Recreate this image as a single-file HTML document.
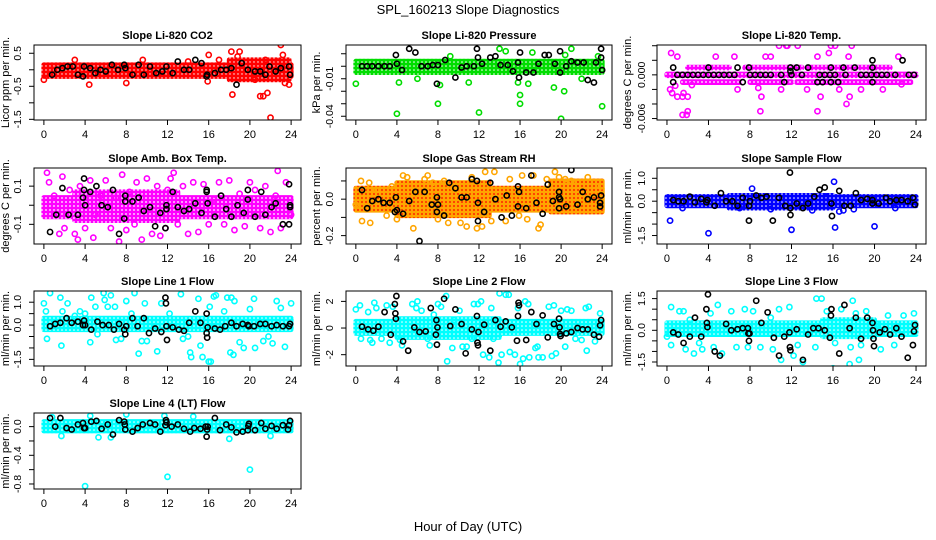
<!DOCTYPE html>
<html><head><meta charset="utf-8"><style>
body{margin:0;background:#fff}
svg{display:block;font-family:"Liberation Sans",sans-serif}
</style></head><body>
<svg id="chart" width="936" height="540">
<defs>
<pattern id="pat-red" width="4" height="4" patternUnits="userSpaceOnUse"><rect width="4" height="4" fill="#ff0000"/><circle cx="2" cy="2" r="0.7" fill="#fff"/></pattern>
<pattern id="pat-green" width="4" height="4" patternUnits="userSpaceOnUse"><rect width="4" height="4" fill="#00dd00"/><circle cx="2" cy="2" r="0.8" fill="#fff"/></pattern>
<pattern id="pat-magenta" width="4" height="4" patternUnits="userSpaceOnUse"><rect width="4" height="4" fill="#ff00ff"/><circle cx="2" cy="2" r="0.9" fill="#fff"/></pattern>
<pattern id="pat-orange" width="4" height="4" patternUnits="userSpaceOnUse"><rect width="4" height="4" fill="#ffa500"/><circle cx="2" cy="2" r="0.9" fill="#ff0000"/></pattern>
<pattern id="pat-blue" width="4" height="4" patternUnits="userSpaceOnUse"><rect width="4" height="4" fill="#0000ff"/><circle cx="2" cy="2" r="0.8" fill="#fff"/></pattern>
<pattern id="pat-cyan" width="4" height="4" patternUnits="userSpaceOnUse"><rect width="4" height="4" fill="#00ffff"/><circle cx="2" cy="2" r="0.8" fill="#fff"/></pattern>
</defs>
<text x="468" y="14" text-anchor="middle" font-size="13">SPL_160213  Slope Diagnostics</text>
<text x="468" y="531" text-anchor="middle" font-size="13">Hour of Day (UTC)</text>
</svg>
<script>
const xTicks = [0,4,8,12,16,20,24];
const co2Clusters = [[0,24,-0.2,0.15],[18,23.8,-0.3,0.3]];
const co2Points = [[0,-0.3],[3,0.3],[4.4,-0.45],[8,-0.4],[9.6,0.3],[15.9,-0.35],[16,0.45],[18.2,0.55],[18.3,-0.75],[18.8,0.4],[19,0.55],[21,-0.8],[21.3,-0.8],[21.7,-0.7],[22,-1.45],[23,0.75],[23.2,0.45],[23.4,-0.4],[23.8,-0.45],[21.5,0.3],[22.7,0.25],[20.5,-0.3],[17,0.3],[14,0.25]];
const co2Black = [[0.8,-0.15],[1.3,0],[1.8,0.05],[2.3,0.1],[2.8,0.1],[3.3,-0.15],[3.8,-0.2],[3.9,0.1],[4.5,0.05],[5,-0.1],[5.5,0],[6,-0.05],[6.6,0.15],[7.2,0],[7.8,0.15],[7.9,0.05],[8.6,-0.15],[9.2,0.15],[9.7,-0.15],[10.3,0.1],[10.9,-0.1],[11.5,-0.05],[11.9,0.1],[12.5,-0.1],[13,0.25],[13.6,0],[14.1,0],[14.7,0.3],[15.3,0.2],[15.8,-0.2],[15.85,-0.15],[16.6,-0.1],[17.2,0],[17.7,0],[18.2,0.05],[18.7,-0.45],[19.2,0.2],[19.8,0],[20.5,-0.05],[21,-0.05],[21.5,-0.15],[21.9,0.1],[22.5,-0.05],[23,0.05],[23.8,0.1],[23.9,-0.15]];
const presClusters = [[0,24,-0.005,0.004]];
const presPoints = [[0,-0.014],[4,-0.038],[4.2,-0.013],[8,-0.03],[8.2,-0.015],[12,-0.037],[11,-0.013],[14,0.014],[14.6,0.012],[16,-0.03],[16,-0.023],[15.8,-0.013],[16.8,-0.014],[17.2,0.011],[19.3,-0.017],[20,-0.042],[20.3,-0.02],[20.4,0.009],[21,0.014],[22,-0.01],[24,-0.032],[23.6,0.008],[9.2,0.008],[6,-0.01]];
const presBlack = [[0.6,0],[1.1,0],[1.6,0],[2.2,0],[2.8,0],[3.3,0],[3.9,0.009],[4,0.002],[4.5,-0.003],[5.2,0.014],[5.8,0.011],[6.4,0],[7,0],[7.5,0.001],[7.9,-0.014],[8,0.001],[8.7,0.005],[9.7,-0.009],[10.3,-0.001],[10.8,0],[11.5,0],[11.8,0.014],[11.9,0.007],[12.3,0.002],[13.1,0.007],[13.6,0.008],[14.1,0.001],[14.8,0.001],[15.3,-0.004],[15.8,0.003],[15.9,-0.009],[16,0.011],[16.6,-0.005],[17.3,-0.005],[17.8,0.002],[18.4,0.009],[18.8,0.009],[19.4,0.002],[19.9,0.012],[19.9,-0.005],[20.5,0],[21,0.004],[21.6,0.003],[22.2,0.003],[22.6,-0.011],[23.2,-0.013],[23.4,0.003],[23.9,0.014],[23.9,0.007],[24,-0.003]];
const tempClusters = [[0,24,-0.0001,0.0001],[2,6,0.00095,0.00105],[7.5,13,0.00095,0.00105],[13.5,21.5,0.00095,0.00105],[1.5,7,-0.00105,-0.00095],[8,12,-0.00105,-0.00095],[12.5,23.5,-0.00105,-0.00095]];
const tempPoints = [[0.4,0.003],[0.5,-0.0025],[0.3,-0.002],[1,0.0025],[0.8,-0.0015],[1,-0.003],[1.5,-0.003],[1.6,-0.0025],[2,-0.003],[1.5,-0.0055],[2,-0.005],[1.9,-0.0055],[2.4,-0.0014],[4.7,0.0025],[6.5,0.0025],[6.8,-0.002],[8.8,-0.0018],[9,-0.005],[9.1,-0.003],[9.5,0.0025],[10,0.0025],[10.8,0.004],[11,-0.002],[11.5,0.004],[11.6,0.004],[12.6,0.004],[13.5,-0.002],[14.5,0.0025],[14.5,-0.005],[14.8,-0.003],[15.8,0.004],[15.6,0.003],[16.2,0.004],[16.6,-0.002],[17.3,-0.004],[17.5,0.0025],[17.6,-0.003],[17.8,0.004],[18.7,-0.002],[20.8,-0.002],[22.3,0.0025],[22.6,-0.0013]];
const tempBlack = [[1,0],[1.5,0],[2,0],[2.5,0],[3,0],[3.5,0],[4,0],[4.5,0],[5,0],[5.5,0],[6,0],[6.5,0],[8,0],[8.5,0],[9,0],[9.5,0],[10,0],[11,0],[12,0],[13,0],[14.7,0],[15.2,0],[15.7,0],[16.2,0],[17.2,0],[18.7,0],[19.2,0],[19.7,0],[20.2,0],[20.7,0],[21.2,0],[22,0],[23.3,0],[23.8,0],[0.6,0.001],[4,0.001],[6.8,0.001],[7.9,0.001],[11.9,0.001],[12.5,0.001],[13.6,0.001],[15.8,0.001],[17,0.001],[18.1,0.001],[19.8,0.001],[0.6,-0.001],[7.3,-0.001],[11.3,-0.001],[14.5,-0.001],[15,-0.001],[15.8,-0.001],[16.5,-0.001],[19.8,-0.001],[11.9,0.0005],[19.8,0.002],[22.7,0.002]];
const ambClusters = [[0,24,-0.06,0.04],[3,13,-0.08,0.07]];
const ambPoints = [[0.3,0.17],[0.5,0.12],[1,0.05],[1.5,-0.15],[1.8,0.15],[2,-0.12],[2.5,0.08],[3,-0.15],[3.3,-0.18],[3.5,0.1],[4,-0.12],[4.5,0.13],[4.8,-0.17],[5,-0.05],[5.5,0.05],[6,0.13],[6.5,-0.12],[7,0.04],[7.3,-0.19],[7.6,0.16],[8,-0.13],[8.3,0.07],[8.8,-0.1],[9,0.12],[9.5,-0.18],[10,0.14],[10.5,-0.15],[11,0.1],[11.3,-0.16],[11.8,-0.12],[12,0.08],[12.3,0.14],[12.6,0.17],[13,-0.1],[13.5,0.1],[14,-0.15],[14.5,0.12],[15,-0.14],[15.5,0.11],[16,-0.1],[16.5,0.03],[17,0.12],[17.5,-0.1],[18,0.13],[18.5,-0.13],[19,0.06],[19.5,-0.11],[20,0.12],[20.5,0.08],[21,-0.12],[21.5,0.1],[22,-0.14],[22.5,0.05],[22.7,0.18],[23,-0.12],[23.5,0.12],[24,-0.05]];
const ambBlack = [[0.6,-0.14],[1.2,-0.05],[1.8,0.09],[2.4,-0.05],[3.3,-0.05],[3.9,0.14],[3.8,0.04],[3.9,0.08],[4,0],[4.5,0.07],[5.1,0.1],[5.6,0],[6.2,-0.01],[6.7,0.08],[7.3,-0.15],[7.8,-0.07],[7.9,0.05],[7.9,0.02],[8.6,0.02],[9.2,0.04],[9.7,-0.03],[10.3,-0.01],[10.8,-0.11],[11.3,-0.04],[11.8,-0.12],[11.9,0],[11.9,-0.02],[12.5,0.07],[13,-0.01],[13.6,-0.03],[14.1,-0.02],[14.7,0.01],[15.3,-0.04],[15.8,0.07],[15.8,0.08],[15.9,0.01],[16.6,-0.06],[17.2,0.05],[17.7,-0.02],[18.2,-0.06],[18.8,0],[19.4,-0.04],[19.8,0.08],[19.8,0.03],[20.5,-0.06],[21.1,0.07],[21.5,-0.05],[22.1,-0.01],[22.5,0.01],[23.2,-0.1],[23.8,-0.1],[23.8,0.11],[23.9,-0.01],[23.9,0]];
const rhClusters = [[0,24,-0.06,0.06],[4,13,-0.09,0.09],[19,24,-0.07,0.1]];
const rhPoints = [[0,-0.03],[0.5,0.1],[0.6,-0.12],[1.3,0.09],[1.4,-0.13],[2,0.05],[3,-0.09],[3.5,0.07],[4,-0.11],[4.6,0.13],[5,0.12],[5.6,-0.16],[6.7,0.11],[7,0.13],[7.5,0.09],[8,-0.11],[8.6,0.1],[9,-0.13],[9.5,0.06],[10.2,-0.13],[10.8,-0.15],[11.3,0.12],[11.8,-0.16],[12.3,-0.15],[12.6,0.15],[13.5,0.15],[13.2,-0.12],[14.6,-0.12],[15,0.11],[15.9,-0.09],[16.2,0.13],[16.7,-0.11],[17.3,0.13],[17.8,-0.16],[18,-0.14],[18.6,0.11],[19.4,0.15],[19.8,0.12],[20.4,0.11],[21,0.1],[22.6,0.12],[23.2,-0.04],[23.9,0.07]];
const rhBlack = [[0.6,0.05],[1.1,-0.05],[1.6,-0.01],[2.2,0],[2.7,-0.02],[3.3,-0.02],[3.8,-0.07],[3.9,0.01],[4,-0.06],[4.6,-0.08],[5.2,-0.01],[5.8,0.04],[6.2,-0.23],[6.7,0.04],[7.4,-0.03],[7.9,-0.07],[7.9,0.01],[8,-0.03],[8.6,-0.09],[9.1,0.09],[9.7,0.06],[10.3,0.01],[10.8,0.01],[11.3,0.11],[11.8,0.1],[11.9,-0.02],[11.9,-0.12],[12.5,-0.07],[13.1,0.09],[13.6,0],[14.2,-0.1],[14.7,0.02],[15.2,-0.09],[15.8,0.07],[15.9,0.04],[15.8,-0.04],[16.6,-0.05],[17.1,0.13],[17.6,-0.02],[18.2,-0.08],[18.7,0.08],[19.2,-0.01],[19.8,0.04],[19.8,0.01],[19.8,-0.05],[19.9,0],[20.5,-0.04],[21,0.16],[21.6,-0.03],[22.1,0.04],[22.6,0],[23.2,0.01],[23.8,-0.02],[23.8,-0.04],[23.9,0.02]];
const flowClusters = [[0,24,-0.2,0.2],[6,16,-0.3,0.25]];
const flowPoints = [[0.3,-0.85],[4,-1.4],[8.2,0.55],[12,-1.25],[14,-2.15],[16,1.7],[16.1,0.85],[16.2,-1.15],[20,-1.1],[16.6,-0.45],[15.3,0.2],[17,-0.4],[22,-0.3],[1.5,-0.3],[7,-0.3],[10,-0.35],[14,-0.4],[18,-0.35]];
const flowBlack = [[0.6,0.05],[1.1,0],[1.6,0],[2.2,0.2],[2.7,-0.05],[3.3,0.1],[3.8,-0.05],[3.9,0.05],[4.6,-0.2],[5.2,0.35],[5.7,0],[6.3,0],[6.8,-0.2],[7.3,0.15],[7.9,-0.2],[7.9,-0.85],[8,0],[8.6,0.25],[9.1,0.15],[9.6,0.2],[10.2,-0.85],[10.8,0.15],[11.4,-0.2],[11.8,1.6],[11.85,1.25],[11.9,-0.3],[11.9,-0.6],[12.5,-0.1],[13.1,-0.3],[13.6,-0.1],[14.2,0.2],[14.7,0.5],[15.2,0.6],[15.8,1.7],[15.85,-0.1],[15.9,-0.65],[16.6,0.45],[17.1,-0.2],[17.7,-0.2],[18.2,0.35],[18.7,0.05],[19.3,0.1],[19.8,0.05],[19.8,-0.1],[20.4,-0.1],[21.1,0.15],[21.5,0],[22.1,0.05],[22.6,0.05],[23.2,0],[23.7,0.15],[23.9,-0.15]];
const l1Clusters = [[0,24,-0.2,0.3]];
const l1Points = [[0,0.95],[0.2,0.6],[0.6,1.4],[0.3,-0.6],[1.6,1.2],[1.7,-0.9],[1.8,0.6],[2.3,0.95],[3,0.4],[3.5,0.6],[4,0.5],[4.6,1.2],[4.5,-0.75],[5,0.8],[5.2,-0.4],[5.8,1.4],[5.9,1.1],[6.2,0.8],[6.5,1.3],[6.9,0.8],[7,-0.65],[7.5,-0.6],[8,1.05],[8.5,0.5],[8.8,1.4],[9.2,-1.25],[9.5,-0.7],[9.8,0.95],[10,-0.7],[11,-1.15],[11.4,0.95],[12.2,0.5],[13.3,1.35],[13.5,-0.6],[14,-0.5],[14.2,-1.2],[14.3,-1.4],[15,1.15],[15.2,-0.9],[15.4,-1.4],[16,-1.6],[16.2,-1.6],[16.1,0.8],[16.5,1.25],[16.7,1.3],[17.5,0.6],[17.8,1.2],[18.2,1.2],[18.1,-1.2],[18.4,-1.3],[18.5,1.05],[19,-0.75],[19.4,-1],[20,0.7],[20.4,1.15],[20.5,-1],[21.3,-0.7],[21.8,-0.5],[22.2,-0.8],[22.6,1.05],[23,0.75],[23.4,-0.95],[24,0.95]];
const l1Black = [[0.6,-0.05],[1.1,0.05],[1.6,0.1],[2.2,0.3],[2.7,0.1],[3.3,0.15],[3.8,0],[3.9,0.2],[4,0],[4.6,-0.2],[5.2,0.15],[5.7,0],[6.3,0],[6.8,-0.2],[7.3,0.05],[7.8,-0.2],[7.9,-0.4],[8,-0.05],[8.6,0.3],[9.1,-0.05],[9.7,0.3],[10.2,-0.35],[10.8,-0.15],[11.4,-0.3],[11.8,1.2],[11.85,0.95],[11.9,-0.05],[11.95,-0.65],[12.5,-0.1],[13.1,-0.2],[13.6,-0.25],[14.1,0.1],[14.7,0.6],[15.2,0.1],[15.8,0.5],[15.8,-0.35],[15.85,-0.55],[15.9,-0.1],[16.6,-0.15],[17.1,-0.2],[17.6,-0.05],[18.2,0.1],[18.7,-0.05],[19.3,0.05],[19.8,0],[19.9,-0.05],[20.4,-0.05],[21,0.05],[21.5,0.05],[22.1,-0.05],[22.6,0],[23.2,-0.05],[23.8,-0.05],[23.9,0.05]];
const l2Clusters = [[0,24,-0.4,0.5],[4,14,-0.7,0.7]];
const l2Points = [[0,1.4],[0.4,1.7],[0.5,-0.8],[1.2,1.2],[1.4,-0.9],[1.6,-1.1],[1.8,1.9],[2,1.5],[2.5,-0.8],[3,1.7],[3.3,-1.1],[3.6,1.6],[4.3,-0.9],[4.5,-1.3],[5.5,1.8],[5.9,1.5],[6,2],[6.4,1.3],[7,-0.8],[7.2,-1.3],[7.6,1],[8,1.8],[8.3,1.6],[8.8,2.4],[8.9,-2.5],[9.4,-1.5],[9.6,0.6],[10.1,1.3],[10.4,-1.4],[10.8,-1.4],[11.3,-0.8],[11.5,1.8],[11.9,1.8],[12.2,2],[12.4,-2],[13,-2.2],[13.2,1.5],[13.4,-0.8],[13.9,-2.6],[14,2.6],[14.2,-2],[14.6,2.5],[14.9,2.5],[15,-1.8],[15.5,-2],[15.8,1.5],[16,-2.7],[16.3,-2.3],[16.5,2],[16.8,1.8],[16.9,-2.2],[17.5,-1.5],[17.7,-1.4],[17.8,-2.2],[18.2,-2.2],[18.8,1.6],[19.1,-2.1],[19.3,1.7],[19.5,-1.9],[20,1.3],[20.4,-1.4],[20.6,1.4],[21,1.3],[21.4,-0.8],[22,-0.9],[22.4,1.5],[22.5,-1.7],[22.7,1.6],[23.3,-1],[23.8,1.1]];
const l2Black = [[0.6,0.1],[1.2,-0.1],[1.7,-0.2],[2.2,0.1],[2.8,1.2],[3.4,-0.5],[3.8,1.8],[3.85,1.1],[3.9,0.7],[3.95,2.4],[4.6,-1],[5.1,-1.7],[5.7,0.05],[6.2,-0.3],[6.8,-0.25],[7.3,1.5],[7.8,-0.5],[7.85,0.6],[7.9,-1.25],[7.95,0.05],[8.6,2.2],[9.2,0.15],[9.7,1.4],[10.3,0.3],[10.7,-1.9],[11.3,-0.1],[11.8,0.9],[11.85,-1.1],[11.9,-1.3],[11.95,-0.3],[12.5,0.25],[13.1,-1.7],[13.6,0.6],[14.1,0.1],[14.6,0.5],[15.2,0.05],[15.7,-0.95],[15.8,0.9],[15.85,1.9],[15.9,1.7],[16.6,-0.9],[17.1,1.2],[17.6,0.3],[18.2,0.95],[18.7,-0.7],[19.3,0.3],[19.8,0.7],[19.85,0.05],[19.9,-0.45],[19.95,-0.6],[20.5,-0.4],[21,-0.3],[21.6,0],[22.1,-0.1],[22.6,-0.1],[23.2,-0.5],[23.7,-0.65],[23.8,0.2],[23.9,0.6]];
const l3Clusters = [[0,24,-0.2,0.35],[15,20,-0.3,0.5]];
const l3Points = [[0,-0.3],[0.4,1.1],[0.4,-0.7],[1.2,0.9],[1.6,0.9],[1.8,-0.9],[2.2,0.5],[2.6,-1.1],[3.1,-0.6],[3.4,-0.9],[4.2,0.8],[4.5,-0.8],[4.9,1.2],[5.3,-1.1],[6.2,0.9],[6.7,-0.8],[7.5,1],[7.8,-0.8],[8.3,0.9],[9,-0.8],[10,0.6],[10.2,-0.9],[10.8,1],[11,-1.4],[11.8,1.1],[12.2,-1.2],[12.6,-0.7],[13.1,-1.5],[14.3,-0.8],[14.4,1.5],[14.9,1.5],[15.4,0.9],[16,-1.8],[16.2,-0.6],[16.8,1],[17.6,-1.6],[17.7,-0.8],[17.9,1.4],[18.2,0.8],[18.5,-1.4],[18.7,-0.7],[19.2,0.9],[20.2,0.3],[20.6,-0.9],[21.3,0.7],[21.9,-0.7],[22.8,0.7],[23.8,0.8]];
const l3Black = [[0.6,-0.1],[1.1,-0.2],[1.6,-0.6],[2.2,-0.3],[2.7,0.6],[3.3,-0.3],[3.8,1.0],[3.85,0.35],[3.9,0.15],[3.95,1.7],[4.6,-1.0],[5.1,-1.2],[5.7,0.3],[6.2,0],[6.8,0.05],[7.3,0.1],[7.8,0.1],[7.85,-0.15],[7.9,-0.5],[7.95,-0.15],[8.6,1.4],[9.1,0.35],[9.7,0.85],[10.3,-0.35],[10.8,-1.2],[11.3,-0.3],[11.8,-0.1],[11.85,-0.8],[11.9,-0.95],[12.5,0.05],[13.1,-1.4],[13.6,-0.2],[14.1,0.1],[14.6,0.1],[15.2,0],[15.7,-0.35],[15.8,0.7],[15.85,1.0],[16.6,-1.1],[17.1,1.2],[17.6,0.1],[18.2,0.6],[18.7,-0.4],[19.3,0.6],[19.8,0.35],[19.85,0],[19.9,-0.4],[19.95,-0.75],[20.5,-0.1],[21,0.05],[21.5,-0.2],[22.1,0.1],[22.6,-0.3],[23.2,-1.3],[23.7,-0.7],[23.8,-0.05],[23.9,0.25]];
const l4Clusters = [[0,24,-0.06,0.07]];
const l4Points = [[4,-0.83],[12,-0.7],[20,-0.6],[0.8,0.13],[1.7,-0.13],[4.5,0.15],[6.5,-0.15],[8,0.17],[11.7,0.15],[14.5,0.14],[18,-0.17],[22,-0.13],[5.3,-0.15]];
const l4Black = [[0.6,0.12],[1.1,0],[1.6,0.12],[2.2,-0.02],[2.7,-0.04],[3.3,0.03],[3.8,0.05],[3.9,-0.02],[4,-0.02],[4.6,0.07],[5.1,0.08],[5.6,-0.03],[6.2,0.03],[6.7,-0.11],[7.3,0.09],[7.8,0.07],[7.85,0.03],[7.9,-0.04],[8.6,-0.07],[9.1,-0.02],[9.6,0.03],[10.3,0.05],[10.8,0.03],[11.3,-0.07],[11.8,0.02],[11.85,0.09],[11.9,0.06],[12.4,0],[13,0.03],[13.6,-0.03],[14.2,-0.07],[14.6,-0.02],[15.2,-0.03],[15.7,0],[15.8,-0.14],[15.85,-0.04],[15.9,0],[16.6,0.12],[17.1,-0.05],[17.7,0.03],[18.2,-0.01],[18.7,-0.08],[19.3,-0.07],[19.8,-0.05],[19.85,0.01],[19.9,0.04],[20.5,-0.05],[21.1,0.05],[21.5,-0.03],[22.1,0.01],[22.6,-0.03],[23.2,0.02],[23.7,-0.04],[23.8,0.02],[23.9,0.08]];
const co2YTicks=[0.5,0,-0.5,-1,-1.5], co2YLabels=["0.5","","-0.5","","-1.5"];
const presYTicks=[0.01,0,-0.01,-0.02,-0.03,-0.04], presYLabels=["","","-0.01","","","-0.04"];
const tempYTicks=[0.004,0.002,0,-0.002,-0.004,-0.006], tempYLabels=["","","0.000","","","-0.006"];
const ambYTicks=[0.1,0,-0.1], ambYLabels=["0.1","","-0.1"];
const rhYTicks=[0.1,0,-0.1,-0.2], rhYLabels=["","0.0","","-0.2"];
const flowYTicks=[1,0.5,0,-0.5,-1,-1.5], flowYLabels=["1.0","","0.0","","","-1.5"];
const l1YTicks=[1,0.5,0,-0.5,-1,-1.5], l1YLabels=["1.0","","0.0","","","-1.5"];
const l2YTicks=[2,0,-2], l2YLabels=["2","0","-2"];
const l3YTicks=[1.5,1,0.5,0,-0.5,-1,-1.5], l3YLabels=["1.5","","","0.0","","","-1.5"];
const l4YTicks=[0,-0.2,-0.4,-0.6,-0.8], l4YLabels=["0.0","","-0.4","","-0.8"];

const cols=[{L:34,R:301,ylab:9,tick:21},{L:346,R:612,ylab:320,tick:333},{L:657,R:926,ylab:631,tick:645}];
const rows=[{T:45,B:120},{T:168,B:244},{T:291,B:366},{T:413,B:489}];
const panels=[
 {id:"co2",title:"Slope Li-820 CO2",yt:"Licor ppm per min.",c:0,r:0,ymin:-1.52,ymax:0.75,col:"#ff0000",pat:"pat-red",cl:co2Clusters,pts:co2Points,bl:co2Black,yticks:co2YTicks,ylabels:co2YLabels},
 {id:"pressure",title:"Slope Li-820 Pressure",yt:"kPa per min.",c:1,r:0,ymin:-0.043,ymax:0.017,col:"#00dd00",pat:"pat-green",cl:presClusters,pts:presPoints,bl:presBlack,yticks:presYTicks,ylabels:presYLabels},
 {id:"temp",title:"Slope Li-820 Temp.",yt:"degrees C per min.",c:2,r:0,ymin:-0.0062,ymax:0.0041,col:"#ff00ff",pat:"pat-magenta",cl:tempClusters,pts:tempPoints,bl:tempBlack,yticks:tempYTicks,ylabels:tempYLabels},
 {id:"amb-box",title:"Slope Amb. Box Temp.",yt:"degrees C per min.",c:0,r:1,ymin:-0.203,ymax:0.195,col:"#ff00ff",pat:"pat-magenta",cl:ambClusters,pts:ambPoints,bl:ambBlack,yticks:ambYTicks,ylabels:ambYLabels},
 {id:"rh",title:"Slope Gas Stream RH",yt:"percent per min.",c:1,r:1,ymin:-0.246,ymax:0.171,col:"#ffa500",pat:"pat-orange",cl:rhClusters,pts:rhPoints,bl:rhBlack,yticks:rhYTicks,ylabels:rhYLabels},
 {id:"sample-flow",title:"Slope Sample Flow",yt:"ml/min per min.",c:2,r:1,ymin:-1.87,ymax:1.45,col:"#0000ff",pat:"pat-blue",cl:flowClusters,pts:flowPoints,bl:flowBlack,yticks:flowYTicks,ylabels:flowYLabels},
 {id:"line1",title:"Slope Line 1 Flow",yt:"ml/min per min.",c:0,r:2,ymin:-1.79,ymax:1.49,col:"#00ffff",pat:"pat-cyan",cl:l1Clusters,pts:l1Points,bl:l1Black,yticks:l1YTicks,ylabels:l1YLabels},
 {id:"line2",title:"Slope Line 2 Flow",yt:"ml/min per min.",c:1,r:2,ymin:-2.85,ymax:2.78,col:"#00ffff",pat:"pat-cyan",cl:l2Clusters,pts:l2Points,bl:l2Black,yticks:l2YTicks,ylabels:l2YLabels},
 {id:"line3",title:"Slope Line 3 Flow",yt:"ml/min per min.",c:2,r:2,ymin:-1.69,ymax:1.86,col:"#00ffff",pat:"pat-cyan",cl:l3Clusters,pts:l3Points,bl:l3Black,yticks:l3YTicks,ylabels:l3YLabels},
 {id:"line4",title:"Slope Line 4 (LT) Flow",yt:"ml/min per min.",c:0,r:3,ymin:-0.87,ymax:0.19,col:"#00ffff",pat:"pat-cyan",cl:l4Clusters,pts:l4Points,bl:l4Black,yticks:l4YTicks,ylabels:l4YLabels}
];
const NS="http://www.w3.org/2000/svg";
const svg=document.getElementById("chart");
function mk(tag,attrs,parent){const e=document.createElementNS(NS,tag);for(const k in attrs)e.setAttribute(k,attrs[k]);(parent||svg).appendChild(e);return e;}
panels.forEach(p=>{
 const C=cols[p.c],Rw=rows[p.r];
 const g=mk("g",{});
 
 
 const w=C.R-C.L, x0=C.L+w*0.04/1.08, x1=C.R-w*0.04/1.08;
 const sx=v=>x0+(v/24)*(x1-x0);
 const sy=v=>Rw.B-(v-p.ymin)/(p.ymax-p.ymin)*(Rw.B-Rw.T);
 const clip=mk("clipPath",{id:"clip-"+p.id},g);
 mk("rect",{x:C.L,y:Rw.T,width:w,height:Rw.B-Rw.T},clip);
 const plot=mk("g",{"clip-path":"url(#clip-"+p.id+")"},g);
 p.cl.forEach(c=>{
  const r=mk("rect",{x:sx(c[0])-2.5,y:sy(c[3])-2.5,width:sx(c[1])-sx(c[0])+5,height:sy(c[2])-sy(c[3])+5,rx:2.5,fill:"url(#"+p.pat+")"},plot);
  
  
 });
 p.pts.forEach(d=>{
  const e=mk("circle",{cx:sx(d[0]),cy:sy(d[1]),r:2.6,fill:"none",stroke:p.col,"stroke-width":1.6},plot);
  
  
 });
 p.bl.forEach(d=>{
  const e=mk("circle",{cx:sx(d[0]),cy:sy(d[1]),r:2.6,fill:"none",stroke:"#000","stroke-width":1.6},plot);
  
  
 });
 const box=mk("rect",{x:C.L,y:Rw.T,width:w,height:Rw.B-Rw.T,fill:"none",stroke:"#000","stroke-width":1},g);
 
 
 const t=mk("text",{x:(C.L+C.R)/2,y:Rw.T-6,"text-anchor":"middle","font-size":11,"font-weight":"bold"},g);
 t.textContent=p.title;
 
 
 mk("line",{x1:sx(0),x2:sx(24),y1:Rw.B,y2:Rw.B,stroke:"#000"},g);
 xTicks.forEach(v=>{
  mk("line",{x1:sx(v),x2:sx(v),y1:Rw.B,y2:Rw.B+5,stroke:"#000"},g);
  const l=mk("text",{x:sx(v),y:Rw.B+18,"text-anchor":"middle","font-size":11},g);
  l.textContent=v;
  
  
 });
 const yt0=sy(p.yticks[0]),yt1=sy(p.yticks[p.yticks.length-1]);
 mk("line",{x1:C.L,x2:C.L,y1:yt0,y2:yt1,stroke:"#000"},g);
 p.yticks.forEach((v,i)=>{
  const y=sy(v);
  mk("line",{x1:C.L-5,x2:C.L,y1:y,y2:y,stroke:"#000"},g);
  if(p.ylabels[i]){
   const l=mk("text",{x:C.tick,y:y,"text-anchor":"middle","font-size":10.5,transform:"rotate(-90 "+C.tick+" "+y+")"},g);
   l.textContent=p.ylabels[i];
   
   
  }
 });
 const cy=(Rw.T+Rw.B)/2;
 const yl=mk("text",{x:C.ylab,y:cy,"text-anchor":"middle","font-size":11,transform:"rotate(-90 "+C.ylab+" "+cy+")"},g);
 yl.textContent=p.yt;
 
 
});
</script>
</body></html>
